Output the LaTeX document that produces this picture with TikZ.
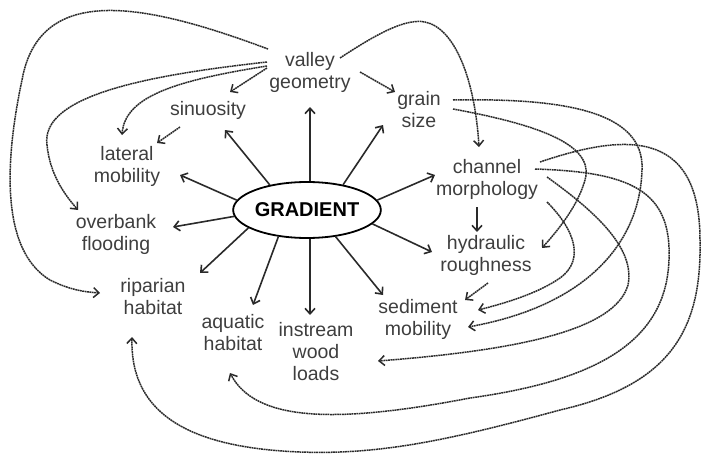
\documentclass[tikz,border=0pt]{standalone}
\usepackage{fontspec}
\setmainfont{Liberation Sans}
\usetikzlibrary{arrows.meta,shapes.geometric,calc}
\definecolor{txt}{HTML}{3E3E3E}
\definecolor{ln}{HTML}{2A2A2A}
\begin{document}
\begin{tikzpicture}[x=1pt,y=-1pt,
  lbl/.style={align=center,inner sep=0pt,text=txt,font=\fontsize{19.5}{22}\selectfont},
  hub/.style={ellipse,draw=black,line width=1.8pt,minimum width=120pt,minimum height=56pt,inner sep=0pt,font=\fontsize{20}{24}\selectfont\bfseries},
  tip/.style={-{Straight Barb[length=5.5pt,width=10pt]}},
  solidarrow/.style={tip,draw=ln,line width=1.6pt},
  dotarrow/.style={tip,draw=ln,line width=1.5pt,dash pattern=on 1.8pt off 0.6pt}]
\useasboundingbox (0,0) rectangle (702,455);

% nodes
\node[hub] (gr) at (307,210) {GRADIENT};
\node[lbl] (vg) at (310,72) {valley\\geometry};
\node[lbl] (sn) at (208,110) {sinuosity};
\node[lbl] (lm) at (127,166) {lateral\\mobility};
\node[lbl] (of) at (116,234) {overbank\\flooding};
\node[lbl] (rh) at (153,297) {riparian\\habitat};
\node[lbl] (ah) at (233,333) {aquatic\\habitat};
\node[lbl] (iw) at (316,352) {instream\\wood\\loads};
\node[lbl] (sm) at (418,319) {sediment\\mobility};
\node[lbl] (hr) at (486,255) {hydraulic\\roughness};
\node[lbl] (cm) at (487,179) {channel\\morphology};
\node[lbl] (gs) at (419,110) {grain\\size};

% solid arrows from GRADIENT
\draw[solidarrow] (gr.north -| vg) -- ($(vg)+(0,35)$);
\draw[solidarrow] (gr.146) -- ($(sn)+(17,20)$);
\draw[solidarrow] (gr.172) -- ($(lm)+(53,9)$);
\draw[solidarrow] (gr.185) -- ($(of)+(57,-7)$);
\draw[solidarrow] (gr.197) -- ($(rh)+(47,-24)$);
\draw[solidarrow] (gr.223) -- ($(ah)+(20,-28)$);
\draw[solidarrow] ($(gr.south)+(3,0)$) -- ($(iw)+(-6,-37)$);
\draw[solidarrow] (gr.317) -- ($(sm)+(-35,-24)$);
\draw[solidarrow] (gr.348) -- ($(hr)+(-54,-3)$);
\draw[solidarrow] (gr.8) -- ($(cm)+(-52,-4)$);
\draw[solidarrow] (gr.35) -- ($(gs)+(-36,15)$);
\draw[solidarrow] ($(cm)+(-10,28)$) -- ($(hr)+(-9,-23)$);

% short dotted arrows
\draw[dotarrow] ($(vg)+(-43,-4)$) -- ($(sn)+(22,-18)$);
\draw[dotarrow] ($(vg)+(50,0)$) -- ($(gs)+(-24,-18)$);
\draw[dotarrow] ($(sn)+(-28,17)$) -- ($(lm)+(30,-23)$);
\draw[dotarrow] ($(hr)+(2,28)$) -- ($(sm)+(47,-19)$);

% long dotted curves from valley geometry
\draw[dotarrow] ($(vg)+(-42,-23)$) .. controls (150,5) and (40,-20) .. (22,80)
  .. controls (5,160) and (0,250) .. (50,280)
  .. controls (70,290) and (85,292) .. ($(rh)+(-53,-4)$);
\draw[dotarrow] ($(vg)+(-43,-10)$) .. controls (150,75) and (40,95) .. (47,145)
  .. controls (50,175) and (65,195) .. ($(of)+(-38,-24)$);
\draw[dotarrow] ($(vg)+(-43,-6)$) .. controls (180,80) and (125,95) .. ($(lm)+(-5,-31)$);
\draw[dotarrow] ($(vg)+(30,-14)$) .. controls (375,35) and (405,18) .. (425,22)
  .. controls (455,28) and (475,80) .. ($(cm)+(-8,-32)$);

% from grain size
\draw[dotarrow] ($(gs)+(34,-10)$) .. controls (560,98) and (645,110) .. (642,170)
  .. controls (640,240) and (590,305) .. ($(sm)+(50,8)$);
\draw[dotarrow] ($(gs)+(34,-1)$) .. controls (540,125) and (595,145) .. (585,180)
  .. controls (578,205) and (560,228) .. ($(hr)+(56,-7)$);

% from channel morphology
\draw[dotarrow] ($(cm)+(53,-17)$) .. controls (620,135) and (700,125) .. (700,240)
  .. controls (702,330) and (670,385) .. (560,410)
  .. controls (450,440) and (380,455) .. (300,452)
  .. controls (200,448) and (130,420) .. ($(rh)+(-21,40)$);
\draw[dotarrow] ($(cm)+(48,-10)$) .. controls (630,172) and (672,190) .. (669,260)
  .. controls (666,340) and (600,380) .. (470,398)
  .. controls (330,425) and (255,420) .. ($(ah)+(-3,40)$);
\draw[dotarrow] ($(cm)+(60,-2)$) .. controls (600,215) and (635,250) .. (628,285)
  .. controls (615,330) and (520,350) .. ($(iw)+(62,9)$);
\draw[dotarrow] ($(cm)+(60,23)$) .. controls (575,230) and (585,260) .. (560,278)
  .. controls (540,292) and (510,302) .. ($(sm)+(60,-9)$);
\end{tikzpicture}
\end{document}
